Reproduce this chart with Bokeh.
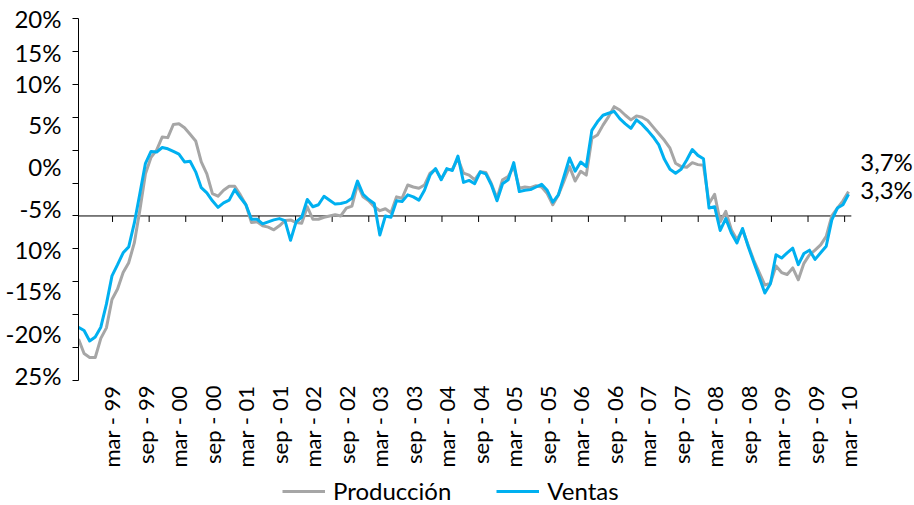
import math
import numpy as np
import pandas as pd
from bokeh.plotting import figure
from bokeh.models import (Range1d, LinearAxis, FixedTicker, Legend, LegendItem,
                          Label, ColumnDataSource)
from bokeh.core.properties import value
from bokeh.embed import file_html
from bokeh.resources import INLINE

# ---------------- data ----------------
months = pd.date_range("1998-09-01", "2010-03-01", freq="MS")  # monthly, 139 points

produccion = [
    -18.7, -20.9, -21.5, -21.5, -18.6, -17.0, -12.7, -11.1, -8.6, -7.1,
    -4.1, 0.9, 6.4, 8.9, 10.0, 12.0, 11.9, 13.9, 14.0, 13.4,
    12.4, 11.4, 8.2, 6.4, 3.4, 3.0, 3.9, 4.5, 4.5, 3.2,
    1.7, -1.0, -0.9, -1.5, -1.7, -2.1, -1.5, -0.7, -0.6, -1.0,
    -1.1, 1.4, -0.5, -0.5, -0.2, 0.0, 0.2, 0.0, 1.2, 1.5,
    4.8, 2.9, 2.3, 1.4, 0.8, 1.1, 0.5, 2.9, 2.7, 4.7,
    4.4, 4.2, 4.7, 6.5, 7.1, 5.6, 7.0, 7.1, 8.7, 6.5,
    6.2, 5.5, 6.7, 6.6, 4.9, 2.7, 5.5, 6.0, 7.5, 4.2,
    4.4, 4.3, 4.6, 4.4, 3.4, 1.7, 3.2, 5.3, 7.5, 5.3,
    6.8, 6.2, 11.8, 12.3, 13.8, 15.1, 16.6, 16.1, 15.3, 14.6,
    15.2, 15.0, 14.5, 13.5, 12.5, 11.5, 10.3, 8.0, 7.5, 7.4,
    8.1, 7.8, 7.7, 1.9, 3.3, -0.9, 0.7, -2.1, -3.6, -2.1,
    -4.4, -6.7, -8.6, -10.5, -10.2, -7.6, -8.6, -8.9, -7.9, -9.7,
    -7.2, -5.9, -5.2, -4.4, -3.1, 0.0, 1.2, 2.3, 3.7,
]

ventas = [
    -16.9, -17.4, -19.0, -18.4, -16.9, -13.4, -9.1, -7.4, -5.6, -4.7,
    -1.1, 3.4, 8.0, 9.8, 9.7, 10.4, 10.2, 9.8, 9.4, 8.2,
    8.3, 6.7, 4.3, 3.5, 2.3, 1.3, 2.0, 2.4, 4.0, 2.8,
    1.7, -0.5, -0.5, -1.2, -0.9, -0.6, -0.4, -0.7, -3.7, -0.9,
    -0.2, 2.5, 1.4, 1.7, 3.0, 2.4, 1.8, 1.9, 2.1, 2.7,
    5.3, 3.3, 2.5, 1.9, -2.9, 0.0, -0.2, 2.3, 2.2, 3.2,
    2.9, 2.4, 3.9, 6.2, 7.2, 5.5, 7.2, 6.9, 9.1, 5.1,
    5.4, 4.9, 6.7, 6.4, 4.7, 2.3, 4.9, 5.5, 8.1, 3.7,
    3.9, 4.0, 4.4, 4.8, 3.9, 2.1, 3.2, 6.0, 8.8, 6.8,
    8.2, 7.5, 13.0, 14.3, 15.3, 15.6, 15.9, 14.8, 14.0, 13.3,
    14.6, 13.9, 13.0, 12.0, 10.8, 8.6, 7.1, 6.5, 7.1, 8.5,
    10.1, 9.2, 8.7, 1.2, 1.4, -2.2, -0.4, -2.6, -4.1, -1.9,
    -4.6, -7.0, -9.3, -11.7, -10.3, -5.9, -6.4, -5.6, -4.9, -7.4,
    -5.7, -5.2, -6.6, -5.6, -4.6, -0.6, 1.2, 1.7, 3.3,
]

x_labels = ["mar - 99", "sep - 99", "mar - 00", "sep - 00", "mar - 01", "sep - 01",
            "mar - 02", "sep - 02", "mar - 03", "sep - 03", "mar - 04", "sep - 04",
            "mar - 05", "sep - 05", "mar - 06", "sep - 06", "mar - 07", "sep - 07",
            "mar - 08", "sep - 08", "mar - 09", "sep - 09", "mar - 10"]
x_label_dates = pd.date_range("1999-03-01", "2010-03-01", freq="6MS")

# y tick labels as printed on the original (labels reproduced where they appear)
y_labels = ["20%", "15%", "10%", "5%", "0%", "-5%", "10%", "-15%", "-20%", "25%"]
y_label_pos = [30.0, 24.8, 20.1, 13.9, 7.5, 1.1, -5.1, -11.3, -17.9, -24.2]

series_names = ["Producción", "Ventas"]

# ---------------- layout constants ----------------
FONT = "Lato"
FS = "24px"
FS_X = "22px"
GREY = "#A6A6A6"
BLUE = "#00B0F0"
Y_LO, Y_HI = -25, 30            # value range of the y axis
PX_PER_UNIT = 362 / (Y_HI - Y_LO)
PX_PER_MONTH = 5.58
W, H = 914, 505
LEFT, TOP, BOTTOM_PAD = 78, 18, 125

x = np.arange(len(months))
src = ColumnDataSource(dict(x=x, prod=produccion, vent=ventas))

x_end_axis = (len(months) - 1) + 0.5
p = figure(width=W, height=H,
           x_range=Range1d(0, (W - LEFT) / PX_PER_MONTH),
           y_range=Range1d(Y_LO - BOTTOM_PAD / PX_PER_UNIT, Y_HI + TOP / PX_PER_UNIT),
           output_backend="svg", toolbar_location=None,
           x_axis_type=None, y_axis_type=None,
           min_border_left=LEFT, min_border_right=0, min_border_top=0, min_border_bottom=0)
p.outline_line_color = None
p.background_fill_color = "white"
p.border_fill_color = "white"

# y axis: tick marks every 5 (minor ticks), labels where the original prints them
yaxis = LinearAxis(
    bounds=(Y_LO, Y_HI),
    ticker=FixedTicker(ticks=y_label_pos, minor_ticks=list(range(Y_LO, Y_HI + 1, 5))),
    major_label_overrides={v: s for v, s in zip(y_label_pos, y_labels)},
    major_tick_out=0, major_tick_in=0,
    minor_tick_out=6, minor_tick_in=0, minor_tick_line_color="black",
    axis_line_color="black", major_label_standoff=11,
    major_label_text_font=FONT, major_label_text_font_size=FS,
    major_label_text_color="black",
)
p.add_layout(yaxis, "left")

# horizontal axis line at 0 with tick marks below it
tick_pos = np.linspace(6.1, 137.3, 21)
tick_len = 6 / PX_PER_UNIT
p.segment(x0=[0], y0=[0], x1=[x_end_axis], y1=[0], line_color="black", line_width=1)
p.segment(x0=tick_pos, y0=np.zeros_like(tick_pos), x1=tick_pos,
          y1=np.full_like(tick_pos, -tick_len), line_color="black", line_width=1)

# x labels (vertical) just under the plotting area
label_idx = [int(months.get_loc(d)) for d in x_label_dates]
y_lab = Y_LO - 5 / PX_PER_UNIT
p.text(x=label_idx, y=[y_lab] * len(label_idx), text=x_labels, angle=math.pi / 2,
       text_align="right", text_baseline="middle",
       text_font=value(FONT), text_font_size=value(FS_X), text_color="black")

r1 = p.line("x", "prod", source=src, line_color=GREY, line_width=3, line_join="round")
r2 = p.line("x", "vent", source=src, line_color=BLUE, line_width=3, line_join="round")

legend = Legend(
    items=[LegendItem(label=series_names[0], renderers=[r1]),
           LegendItem(label=series_names[1], renderers=[r2])],
    orientation="horizontal", location=(204, 0),
    border_line_color=None, background_fill_alpha=0,
    label_text_font=FONT, label_text_font_size=FS, label_text_color="black",
    glyph_width=43, glyph_height=20, label_standoff=8, spacing=45,
    padding=0, margin=0,
)
p.add_layout(legend, "center")

def pct(v):
    return f"{v:.1f}%".replace(".", ",")

p.add_layout(Label(x=140.1, y=8.3, text=pct(produccion[-1]), text_baseline="middle",
                   text_font=FONT, text_font_size=FS, text_color="black"))
p.add_layout(Label(x=140.1, y=4.0, text=pct(ventas[-1]), text_baseline="middle",
                   text_font=FONT, text_font_size=FS, text_color="black"))

open("out.html", "w").write(file_html(p, INLINE))
